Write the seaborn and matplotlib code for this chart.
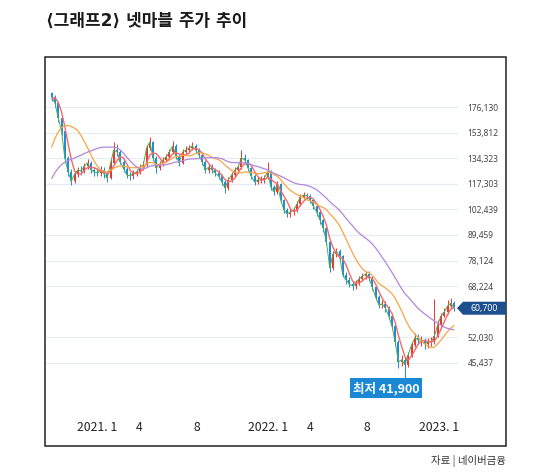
import math
import numpy as np
import pandas as pd
import matplotlib
matplotlib.use("Agg")
import matplotlib.pyplot as plt
import matplotlib.dates as mdates
from matplotlib.patches import Rectangle, Polygon
from matplotlib.ticker import NullLocator
import seaborn as sns

# ---------------- data (thousand won, weekly) ----------------
# weeks before the visible window, only used to warm up the moving averages
warmup_close_k = [92, 94, 96, 95, 98, 100, 99, 101, 103, 100, 104, 106,
                  100, 105, 110, 115, 125, 130, 140, 150, 175, 185, 190]

close_k = [
    185.7, 179.9, 166.2, 155.1, 134.5, 124.9, 119.0, 123.5, 126.2, 125.5,
    128.9, 131.0, 126.2, 124.9, 124.2, 126.2, 123.5, 121.0, 131.0, 140.3,
    138.8, 131.6, 126.9, 122.9, 122.2, 124.2, 124.9, 128.2, 129.6, 141.8,
    146.3, 134.5, 127.5, 130.3, 133.1, 135.2, 138.8, 143.3, 135.9, 131.0,
    138.8, 140.3, 141.8, 143.3, 140.3, 136.6, 131.6, 126.2, 128.2, 126.2,
    124.2, 122.2, 118.4, 114.7, 119.7, 122.9, 126.2, 128.2, 134.5, 133.1,
    127.5, 122.2, 118.4, 119.7, 119.7, 121.0, 124.9, 115.3, 112.3, 117.2,
    107.7, 102.1, 100.0, 101.0, 102.1, 105.4, 109.4, 110.5, 110.0, 107.7,
    104.3, 101.0, 96.9, 92.8, 86.2, 75.1, 80.9, 82.2, 80.0, 72.4,
    70.5, 69.0, 68.3, 69.4, 70.9, 72.0, 72.8, 71.2, 67.9, 64.4,
    61.8, 62.1, 60.8, 58.3, 55.3, 50.8, 45.7, 46.2, 45.0, 47.4,
    50.0, 51.9, 51.3, 51.3, 50.2, 50.8, 50.8, 52.4, 55.6, 58.3,
    59.5, 61.4, 62.4, 60.7]

high_k = [
    190.5, 187.5, 181, 168, 157, 136, 127, 125.5, 128.5, 129,
    131, 133.5, 132.5, 128, 127.5, 129, 128, 125, 133.5, 146,
    145, 140, 133, 128, 125, 126.5, 127, 130.5, 132, 144,
    150.5, 147.5, 136, 132.5, 135.5, 137.5, 141, 147.5, 145, 137,
    141, 143, 144, 146.5, 145, 141.5, 138, 133, 130.5, 130,
    127.5, 126, 123.5, 119.5, 121.5, 125, 128, 130.5, 140.5, 137,
    134, 128.5, 123.5, 121.5, 122, 123, 131.5, 126, 116.5, 119,
    118, 108.5, 103, 102.5, 104, 107, 111, 112.5, 112, 111,
    108.5, 105, 102, 97.5, 93.5, 87, 82, 83.5, 83, 80.5,
    73.5, 71.5, 70, 70.5, 72, 73.3, 74, 73.8, 72, 68.5,
    65, 63.3, 63, 61.3, 58.8, 55.8, 51.3, 47.5, 46.8, 48.2,
    50.8, 53.2, 53.0, 52.5, 51.8, 51.8, 52, 63.9, 57, 59.3,
    60.7, 63.5, 64.0, 63.2]

low_k = [
    182.0, 176.5, 163, 152, 131, 122, 116.5, 118, 121.5, 123,
    124, 127, 124.5, 122.5, 122, 122.5, 121, 118.5, 120, 129.5,
    136, 130, 125, 121, 119.5, 120.5, 122.5, 123.5, 126.5, 128.5,
    140, 132.5, 124.5, 126, 129, 131.5, 133.5, 137, 134, 129,
    130, 136.5, 138, 140, 138, 134.5, 129.5, 124, 124.5, 124,
    122, 120, 116.5, 112, 113.5, 118.5, 121.5, 124.5, 127, 130,
    125.5, 120.5, 116.5, 117, 117.5, 118, 120, 113.5, 110.5, 111,
    106, 100.5, 98.5, 98.5, 99.5, 101, 104.5, 108, 108, 106,
    102.5, 99, 95, 91, 85, 73.7, 74.5, 79.5, 78.5, 71.5,
    69, 67.8, 67, 67.3, 68.5, 70, 71, 70, 66.8, 63.3,
    60.8, 60.8, 59.6, 57.3, 54.3, 49.8, 44.2, 44.8, 41.9, 44.5,
    47, 49.5, 50.2, 49.8, 48.9, 49.3, 49.6, 50.2, 52, 55,
    57.8, 59, 60.6, 59.8]

first_week = "2020-04-17"
ma_windows = {"ma5": 1, "ma20": 4, "ma60": 12, "ma120": 24}   # in weeks
ytick_vals = [176130, 153812, 134323, 117303, 102439, 89459, 78124, 68224, 52030, 45437]
xtick_dates = ["2021-01-01", "2021-04-01", "2021-08-01", "2022-01-01",
               "2022-04-01", "2022-08-01", "2023-01-01"]
xtick_labels = ["2021. 1", "4", "8", "2022. 1", "4", "8", "2023. 1"]
title = "⟨그래프2⟩ 넷마블 주가 추이"
source = "자료 | 네이버금융"

# ---------------- prepare ----------------
full_close = np.array(warmup_close_k + close_k) * 1000.0
dates_all = pd.date_range(first_week, periods=len(full_close), freq="7D")
nw = len(warmup_close_k)
s = pd.Series(full_close)
df = pd.DataFrame({"date": dates_all[nw:],
                   "close": full_close[nw:],
                   "open": full_close[nw - 1:-1],
                   "high": np.array(high_k) * 1000.0,
                   "low": np.array(low_k) * 1000.0})
for k, w in ma_windows.items():
    df[k] = s.rolling(w).mean().values[nw:]

# ---------------- style ----------------
sns.set_theme(style="white")
plt.rcParams["font.family"] = ["Noto Sans CJK KR", "DejaVu Sans"]

W, H = 550, 474
L, R, T, B = 46, 458, 58, 410
fig = plt.figure(figsize=(W / 100, H / 100), dpi=100)
fig.patch.set_facecolor("white")
ax = fig.add_axes([L / W, 1 - B / H, (R - L) / W, (B - T) / H])
ax.set_facecolor("white")

UP, DOWN = "#ee3535", "#1f8bdc"
up = df["close"] >= df["open"]
colors = np.where(up, UP, DOWN)
body_lo = np.minimum(df["open"], df["close"])
body_hi = np.maximum(df["open"], df["close"])
body_h = np.maximum(body_hi - body_lo, body_lo * 0.004)

ax.vlines(df["date"], df["low"], df["high"], colors=colors, lw=0.7, zorder=2)
ax.bar(df["date"], body_h, bottom=body_lo, width=4.3, color=colors,
       linewidth=0, zorder=3)

sns.lineplot(data=df, x="date", y="ma5", color="#4cb04f", lw=0.7, ax=ax, zorder=3.5)
sns.lineplot(data=df, x="date", y="ma20", color="#f46a6a", lw=1.0, ax=ax, zorder=4)
sns.lineplot(data=df, x="date", y="ma60", color="#f8a546", lw=0.9, ax=ax, zorder=4)
sns.lineplot(data=df, x="date", y="ma120", color="#b386dc", lw=0.9, ax=ax, zorder=4)

ax.set_yscale("log")
ppl = 188.9
ax.set_ylim(176130 * math.exp(-(B - 107) / ppl), 176130 * math.exp((107 - T) / ppl))
anchor = pd.Timestamp("2021-01-01")
ppd = 0.4673
ax.set_xlim(anchor + pd.Timedelta(days=(L - 97.5) / ppd),
            anchor + pd.Timedelta(days=(R - 97.5) / ppd))

ax.yaxis.tick_right()
ax.set_yticks(ytick_vals)
ax.set_yticklabels([f"{v:,}" for v in ytick_vals])
ax.yaxis.set_minor_locator(NullLocator())
ax.tick_params(axis="y", length=0, pad=7, labelsize=6, labelcolor="#444444")
for lbl in ax.get_yticklabels():
    lbl.set_fontfamily(["Noto Sans", "DejaVu Sans"])

ax.set_xticks(pd.to_datetime(xtick_dates))
ax.set_xticklabels(xtick_labels)
ax.tick_params(axis="x", length=0, pad=8, labelsize=8.8, labelcolor="#222222")
for lbl in ax.get_xticklabels():
    lbl.set_fontfamily(["Liberation Sans Narrow", "Noto Sans CJK KR", "DejaVu Sans"])

ax.set_xlabel("")
ax.set_ylabel("")
ax.grid(axis="y", color="#e3ebf3", lw=0.8, zorder=0)
ax.grid(axis="x", visible=False)
ax.set_axisbelow(True)
for sp in ax.spines.values():
    sp.set_visible(False)
if ax.get_legend():
    ax.get_legend().remove()

# lowest price label
imin = int(np.argmin(df["low"].values))
ax.annotate(f"최저 {df['low'].iloc[imin]:,.0f}",
            xy=(df["date"].iloc[imin], df["low"].iloc[imin]),
            xytext=(-19, -10), textcoords="offset pixels",
            ha="center", va="center", fontsize=9, fontweight="bold", color="white",
            bbox=dict(boxstyle="square,pad=0.25", fc="#1a88d4", ec="none"), zorder=6)

# current price marker
current = df["close"].iloc[-1]
yd = ax.transData.transform((mdates.date2num(df["date"].iloc[-1]), current))[1]
pts = [(457, yd), (463, yd + 6.5), (506, yd + 6.5), (506, yd - 6.5), (463, yd - 6.5)]
fig.add_artist(Polygon([(px / W, py / H) for px, py in pts], closed=True,
                       transform=fig.transFigure, fc="#1d4f8f", ec="none", zorder=5))
fig.text((463 + 506) / 2 / W, yd / H, f"{current:,.0f}", color="white",
         fontsize=6.3, ha="center", va="center", family=["Noto Sans", "DejaVu Sans"],
         zorder=6)

# frame, title, source
fig.add_artist(Rectangle((45 / W, 1 - 446 / H), 461 / W, 389 / H,
                         transform=fig.transFigure, fill=False, ec="#222222", lw=1.1))
fig.text(46 / W, 1 - 21 / H, title, fontsize=12.2, fontweight="bold",
         ha="left", va="center", color="#1a1a1a",
         family=["DejaVu Sans", "Noto Sans CJK KR"])
fig.text(506 / W, 1 - 461 / H, source, fontsize=7.5, ha="right", va="center",
         color="#333333")

fig.savefig("out.png", dpi=100, facecolor="white")
